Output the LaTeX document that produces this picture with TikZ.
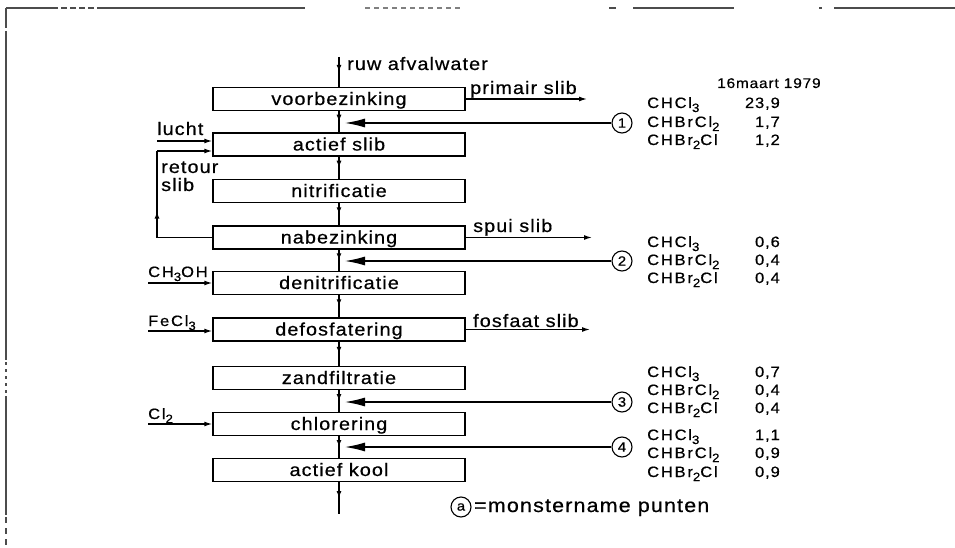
\documentclass[tikz,border=0pt]{standalone}
\usepackage{fontspec}
\setmainfont{Liberation Sans}[LetterSpace=6, FakeStretch=1.1, FakeBold=0.6]
\newfontfamily\chemfamily{Liberation Sans}[LetterSpace=12, FakeStretch=1.1, FakeBold=0.6]
\usetikzlibrary{arrows.meta,decorations.markings}

% font sizes used in the flow sheet
\newcommand\stagefont{\fontsize{18}{20}\selectfont}
\newcommand\sidefont{\fontsize{18}{20}\selectfont}
\newcommand\chemfont{\chemfamily\fontsize{15}{17}\selectfont}
\newcommand\numfont{\fontsize{15}{17}\selectfont}
\newcommand\datefont{\fontsize{14}{16}\selectfont}
\newcommand\probefont{\fontsize{13.5}{15}\selectfont}
\newcommand\legendfont{\fontsize{19.5}{22}\selectfont}
% lowered index in chemical formulas
\newcommand\dn[1]{\raisebox{-4pt}{\fontsize{12}{12}\selectfont #1}}

\begin{document}
\begin{tikzpicture}[x=1pt,y=-1pt,
  stage/.style={draw, line width=1.5pt, minimum width=252pt, minimum height=23pt,
    inner sep=0pt, text height=12pt, text depth=0pt, font=\stagefont},
  flow/.style={line width=1.3pt},
  tipat/.style={postaction={decorate}, decoration={markings,
    mark=at position #1 with {\arrow{Latex[length=7pt,width=5pt]}}}},
  midtip/.style={tipat=0.5},
  into/.style={-{Latex[length=8pt,width=5pt]}},
  sample/.style={line width=1.3pt, -{Latex[length=20pt,width=9pt]}},
  probe/.style={circle, draw, line width=1.1pt, minimum size=20pt, inner sep=0pt,
    font=\probefont},
  lbl/.style={anchor=base west, inner sep=0pt, font=\sidefont},
  chem/.style={anchor=base west, inner sep=0pt, font=\chemfont},
  val/.style={anchor=base east, inner sep=0pt, font=\numfont},
  frame/.style={line width=1.2pt, black!70}
]
\useasboundingbox (0,0) rectangle (955,548);

% broken frame at top and left
\draw[frame] (6,8) -- (52,8);
\draw[frame, dash pattern=on 6pt off 3pt] (52,8) -- (103,8);
\draw[frame] (103,8) -- (305,8);
\draw[frame, black!50, dash pattern=on 5pt off 4pt] (365,8) -- (460,8);
\draw[frame] (609,8) -- (616,8);
\draw[frame] (633,8) -- (734,8);
\draw[frame] (819,8) -- (822,8);
\draw[frame] (834,8) -- (955,8);
\draw[frame] (6,8) -- (6,28);
\draw[frame] (6,31) -- (6,360);
\draw[frame, dash pattern=on 3pt off 4pt] (6,362) -- (6,395);
\draw[frame] (6,396) -- (6,515);
\draw[frame, dash pattern=on 6pt off 5pt] (6,517) -- (6,546);

% treatment stages
\node[stage] (s1) at (339,99)    {voorbezinking};
\node[stage] (s2) at (339,144.5) {actief slib};
\node[stage] (s3) at (339,191)   {nitrificatie};
\node[stage] (s4) at (339,237.5) {nabezinking};
\node[stage] (s5) at (339,283)   {denitrificatie};
\node[stage] (s6) at (339,329.5) {defosfatering};
\node[stage] (s7) at (339,378)   {zandfiltratie};
\node[stage] (s8) at (339,424)   {chlorering};
\node[stage] (s9) at (339,470)   {actief kool};

% main water line
\coordinate (win) at (339,57);
\coordinate (wout) at (339,514);
\draw[flow,midtip] (win) -- (s1);
\draw[flow,midtip] (s1) -- (s2);
\draw[flow,midtip] (s2) -- (s3);
\draw[flow,midtip] (s3) -- (s4);
\draw[flow,midtip] (s4) -- (s5);
\draw[flow,midtip] (s5) -- (s6);
\draw[flow,midtip] (s6) -- (s7);
\draw[flow,midtip] (s7) -- (s8);
\draw[flow,midtip] (s8) -- (s9);
\draw[flow,midtip] (s9) -- (wout);
\node[lbl] (lraw) at (347,70) {ruw afvalwater};

% sludge outlets
\coordinate (o1) at (587,99);
\coordinate (o2) at (592,237.5);
\coordinate (o3) at (590,329.5);
\draw[flow,into] (s1.east) -- (o1);
\draw[flow,into] (s4.east) -- (o2);
\draw[flow,into] (s6.east) -- (o3);
\node[lbl] (lo1) at (470,94)  {primair slib};
\node[lbl] (lo2) at (473,232) {spui slib};
\node[lbl] (lo3) at (473,327) {fosfaat slib};

% dosing on the left
\coordinate (a1) at (157,141);
\coordinate (c1) at (148,283);
\coordinate (c2) at (148,331);
\coordinate (c3) at (148,424);
\draw[flow,into] (a1) -- (s2.west |- a1);
\draw[flow,into] (c1) -- (s5.west |- c1);
\draw[flow,into] (c2) -- (s6.west |- c2);
\draw[flow,into] (c3) -- (s8.west |- c3);
\node[lbl] (la1) at (157,135) {lucht};
\node[chem] (lc1) at (148,277) {CH\dn{3}OH};
\node[chem] (lc2) at (148,326) {FeCl\dn{3}};
\node[chem] (lc3) at (148,419) {Cl\dn{2}};

% return sludge loop
\coordinate (r0) at (157,237.5);
\coordinate (r1) at (157,151);
\draw[flow] (s4.west) -- (r0);
\draw[flow,tipat=0.3] (r0) -- (r1);
\draw[flow,into] (r1) -- (s2.west |- r1);
\node[lbl] (lr1) at (161,173) {retour};
\node[lbl] (lr2) at (161,191) {slib};

% sampling points
\node[probe] (p1) at (622,123) {1};
\node[probe] (p2) at (622,261) {2};
\node[probe] (p3) at (622,402) {3};
\node[probe] (p4) at (622,447) {4};
\coordinate (t1) at (345,123);
\coordinate (t2) at (345,261);
\coordinate (t3) at (345,402);
\coordinate (t4) at (345,447);
\draw[sample] (p1) -- (t1);
\draw[sample] (p2) -- (t2);
\draw[sample] (p3) -- (t3);
\draw[sample] (p4) -- (t4);

% measured concentrations
\node[anchor=base west, inner sep=0pt, font=\datefont] (date) at (717,88) {16maart 1979};
\foreach \g/\ya/\yb/\yc/\va/\vb/\vc in {
    1/108/127/145/{23,9}/{1,7}/{1,2},
    2/247/265/283/{0,6}/{0,4}/{0,4},
    3/377/395/413/{0,7}/{0,4}/{0,4},
    4/440/458/477/{1,1}/{0,9}/{0,9}} {
  \node[chem] (fa\g) at (647,\ya) {CHCl\dn{3}};
  \node[chem] (fb\g) at (647,\yb) {CHBrCl\dn{2}};
  \node[chem] (fc\g) at (647,\yc) {CHBr\dn{2}Cl};
  \node[val] (va\g) at (780,\ya) {\va};
  \node[val] (vb\g) at (780,\yb) {\vb};
  \node[val] (vc\g) at (780,\yc) {\vc};
}

% legend
\node[probe] (pa) at (461,507) {a};
\node[anchor=base west, inner sep=0pt, font=\legendfont] (leg) at (474,512) {=monstername punten};
\end{tikzpicture}
\end{document}
